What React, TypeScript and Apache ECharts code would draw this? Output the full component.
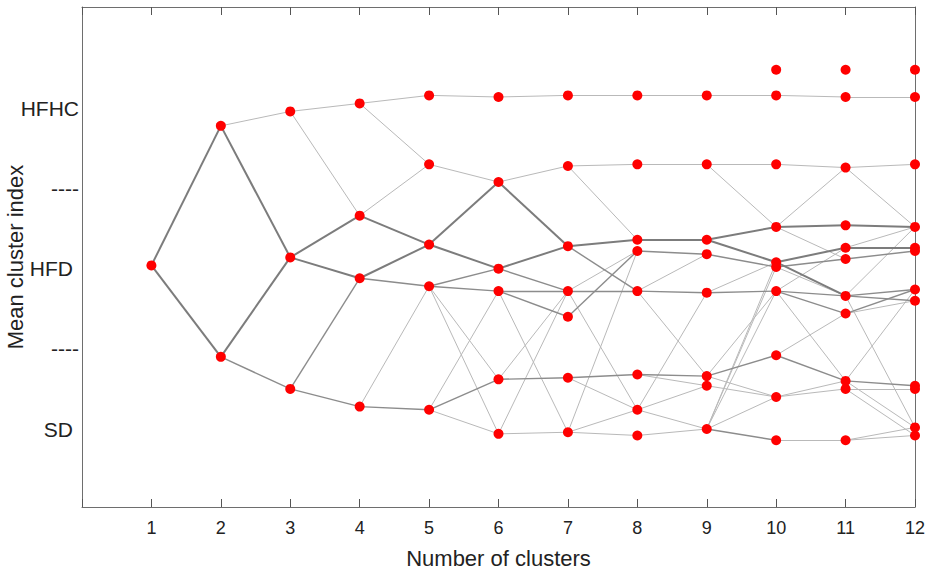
import React, { useEffect, useRef } from "react";
import * as echarts from "echarts";

// Number of clusters (x positions of each column of nodes)
const clusterCounts = [1, 2, 3, 4, 5, 6, 7, 8, 9, 10, 11, 12];

// Mean cluster index of every cluster, per number of clusters (top to bottom)
const col1 = [2.02];
const col2 = [2.89, 1.45];
const col3 = [2.98, 2.07, 1.25];
const col4 = [3.03, 2.33, 1.94, 1.14];
const col5 = [3.08, 2.65, 2.15, 1.89, 1.12];
const col6 = [3.07, 2.54, 2.0, 1.86, 1.31, 0.97];
const col7 = [3.08, 2.64, 2.14, 1.86, 1.7, 1.32, 0.98];
const col8 = [3.08, 2.65, 2.18, 2.11, 1.86, 1.34, 1.12, 0.96];
const col9 = [3.08, 2.65, 2.18, 2.09, 1.85, 1.33, 1.27, 1.0];
const col10 = [3.24, 3.08, 2.65, 2.26, 2.04, 2.01, 1.86, 1.46, 1.2, 0.93];
const col11 = [3.24, 3.07, 2.63, 2.27, 2.13, 2.06, 1.83, 1.72, 1.3, 1.25, 0.93];
const col12 = [3.24, 3.07, 2.65, 2.26, 2.13, 2.11, 1.87, 1.8, 1.27, 1.25, 1.01, 0.96];
const nodeColumns = [col1, col2, col3, col4, col5, col6, col7, col8, col9, col10, col11, col12];

// Links between consecutive solutions: [from index, to index, strength (1 weak .. 3 strong)]
const links1 = [[0, 0, 3], [0, 1, 3]];
const links2 = [[0, 0, 1], [0, 1, 3], [1, 1, 3], [1, 2, 2]];
const links3 = [[0, 0, 1], [0, 1, 1], [1, 1, 3], [1, 2, 3], [2, 2, 2], [2, 3, 2]];
const links4 = [[0, 0, 1], [0, 1, 1], [1, 1, 1], [1, 2, 3], [2, 2, 3], [2, 3, 2], [3, 3, 1], [3, 4, 2]];
const links5 = [[0, 0, 1], [1, 1, 1], [2, 1, 3], [2, 2, 3], [3, 2, 2], [3, 3, 2], [3, 4, 1], [3, 5, 1], [4, 4, 2], [4, 5, 1], [4, 3, 1]];
const links6 = [[0, 0, 1], [1, 1, 1], [1, 2, 3], [2, 2, 3], [2, 3, 2], [3, 3, 2], [3, 4, 2], [3, 6, 1], [4, 5, 2], [4, 3, 1], [5, 3, 1], [5, 6, 1]];
const links7 = [[0, 0, 1], [1, 1, 1], [1, 2, 1], [2, 2, 3], [2, 4, 2], [3, 4, 2], [3, 3, 1], [3, 6, 1], [4, 3, 2], [5, 5, 2], [5, 6, 1], [6, 6, 1], [6, 7, 1], [6, 3, 1]];
const links8 = [[0, 0, 1], [1, 1, 1], [2, 2, 3], [3, 3, 2], [4, 4, 2], [4, 3, 1], [4, 5, 1], [5, 5, 2], [5, 6, 1], [6, 4, 1], [6, 6, 1], [6, 7, 1], [7, 7, 1]];
const links9 = [[0, 1, 1], [1, 2, 1], [1, 3, 1], [2, 3, 3], [2, 4, 3], [3, 5, 2], [4, 6, 2], [4, 4, 1], [5, 7, 2], [5, 8, 1], [5, 6, 1], [6, 8, 1], [7, 9, 2], [7, 4, 1], [7, 5, 1], [7, 6, 1], [7, 8, 1]];
const links10 = [[1, 1, 1], [2, 2, 1], [3, 2, 1], [3, 3, 3], [3, 5, 1], [4, 4, 3], [4, 6, 3], [5, 5, 2], [5, 6, 1], [6, 6, 2], [6, 7, 2], [6, 4, 1], [6, 8, 1], [7, 8, 2], [7, 7, 1], [8, 9, 1], [8, 8, 1], [9, 10, 1]];
const links11 = [[1, 1, 1], [2, 2, 1], [2, 3, 1], [3, 3, 3], [4, 4, 3], [4, 3, 1], [5, 5, 2], [6, 6, 2], [6, 7, 2], [6, 3, 1], [6, 10, 1], [7, 6, 2], [7, 7, 1], [8, 8, 2], [8, 6, 1], [8, 10, 1], [9, 9, 1], [9, 11, 1], [10, 11, 1], [10, 10, 1]];
const linkSets = [links1, links2, links3, links4, links5, links6, links7, links8, links9, links10, links11];

// Y tick labels
const yTickValues = [1, 1.5, 2, 2.5, 3];
const yTickLabels = ["SD", "----", "HFD", "----", "HFHC"];
const xTickLabels = ["1", "2", "3", "4", "5", "6", "7", "8", "9", "10", "11", "12"];

const FONT = "'Liberation Sans', Arial, Helvetica, sans-serif";
const TEXT = "#222222";
const AXIS = "#6e6e6e";

const strengthStyle: Record<number, { color: string; width: number }> = {
  1: { color: "#b9b9b9", width: 1 },
  2: { color: "#8c8c8c", width: 1.4 },
  3: { color: "#7c7c7c", width: 2 },
};

export default function App() {
  const ref = useRef<HTMLDivElement>(null);

  useEffect(() => {
    if (!ref.current) return;
    const chart = echarts.init(ref.current, undefined, { renderer: "svg" });

    const linkItems: any[] = [];
    linkSets.forEach((set, k) => {
      set.forEach(([a, b, s]) => {
        linkItems.push({
          s,
          coords: [
            [clusterCounts[k], nodeColumns[k][a]],
            [clusterCounts[k + 1], nodeColumns[k + 1][b]],
          ],
        });
      });
    });
    linkItems.sort((p, q) => p.s - q.s);
    const lineData = linkItems.map((it) => ({
      coords: it.coords,
      lineStyle: { color: strengthStyle[it.s].color, width: strengthStyle[it.s].width, opacity: 1 },
    }));

    const nodeData: number[][] = [];
    nodeColumns.forEach((col, k) => col.forEach((v) => nodeData.push([clusterCounts[k], v])));

    const yMin = 0.514;
    const yMax = 3.631;

    chart.setOption({
      animation: false,
      backgroundColor: "#ffffff",
      grid: { left: 82, right: 16, top: 7, bottom: 68, containLabel: false, outerBoundsMode: "none" },
      xAxis: [
        {
          type: "value",
          min: 0,
          max: 12,
          interval: 1,
          name: "Number of clusters",
          nameLocation: "middle",
          nameGap: 40,
          nameMoveOverlap: false,
          nameTextStyle: { fontFamily: FONT, fontSize: 22, color: TEXT },
          axisLine: { show: true, onZero: false, lineStyle: { color: AXIS, width: 1 } },
          axisTick: { show: true, inside: true, length: 8, lineStyle: { color: "#555555", width: 1, opacity: 1 } },
          splitLine: { show: false },
          axisLabel: {
            show: true,
            margin: 12,
            fontFamily: FONT,
            fontSize: 18,
            color: TEXT,
            formatter: (v: number) => (v >= 1 && v <= 12 ? xTickLabels[v - 1] : ""),
          },
        },
        {
          type: "value",
          position: "top",
          min: 0,
          max: 12,
          interval: 1,
          axisLine: { show: true, onZero: false, lineStyle: { color: AXIS, width: 1 } },
          axisTick: { show: true, inside: true, length: 8, lineStyle: { color: "#555555", width: 1, opacity: 1 } },
          splitLine: { show: false },
          axisLabel: { show: true, color: "rgba(0,0,0,0)", formatter: () => "" },
        },
      ],
      yAxis: [
        {
          type: "value",
          min: yMin,
          max: yMax,
          name: "Mean cluster index",
          nameLocation: "middle",
          nameGap: 56,
          nameRotate: 90,
          nameMoveOverlap: false,
          nameTextStyle: { fontFamily: FONT, fontSize: 22, color: TEXT },
          axisLine: { show: true, onZero: false, lineStyle: { color: AXIS, width: 1 } },
          axisTick: { show: false },
          splitLine: { show: false },
          axisLabel: {
            margin: 3,
            customValues: yTickValues,
            fontFamily: FONT,
            fontSize: 21,
            color: TEXT,
            formatter: (v: number) => {
              const i = yTickValues.findIndex((t) => Math.abs(t - v) < 1e-6);
              if (i < 0) return "";
              const lab = yTickLabels[i];
              return lab === "HFD" || lab === "SD" ? `{p|${lab}}` : `{n|${lab}}`;
            },
            rich: {
              p: { fontFamily: FONT, fontSize: 21, color: TEXT, padding: [0, 6, 0, 0] },
              n: { fontFamily: FONT, fontSize: 21, color: TEXT },
            },
          },
        },
        {
          type: "value",
          position: "right",
          min: yMin,
          max: yMax,
          axisLine: { show: true, onZero: false, lineStyle: { color: AXIS, width: 1 } },
          axisTick: { show: false },
          splitLine: { show: false },
          axisLabel: { show: false },
        },
      ],
      series: [
        {
          type: "lines",
          coordinateSystem: "cartesian2d",
          xAxisIndex: 0,
          yAxisIndex: 0,
          polyline: false,
          silent: true,
          z: 2,
          data: lineData,
        },
        {
          type: "scatter",
          xAxisIndex: 0,
          yAxisIndex: 0,
          symbol: "circle",
          symbolSize: 10,
          itemStyle: { color: "#ff0000", opacity: 1 },
          z: 5,
          data: nodeData,
        },
      ],
    });

    return () => chart.dispose();
  }, []);

  return (
    <div
      ref={ref}
      style={{ position: "fixed", left: 0, top: 0, width: 931, height: 575, background: "#fff" }}
    />
  );
}
